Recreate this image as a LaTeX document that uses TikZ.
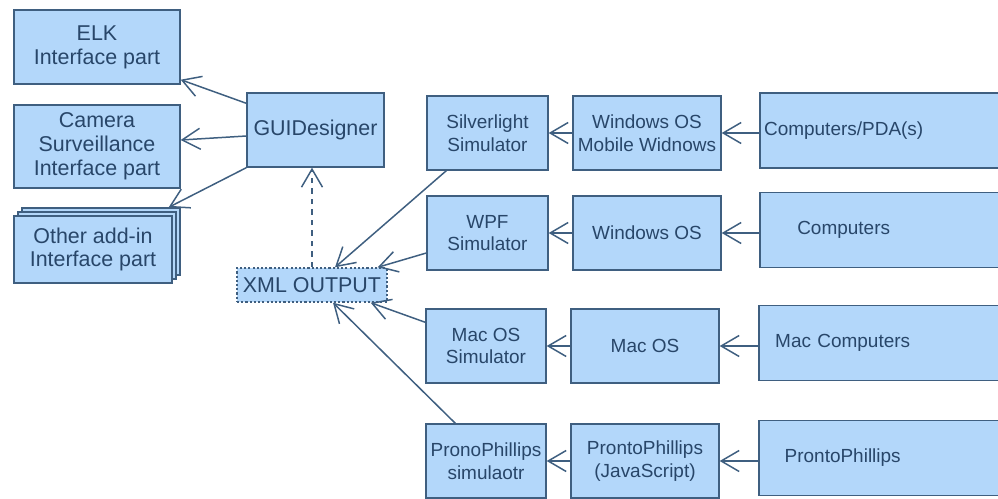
\documentclass[tikz,border=0pt]{standalone}
\usepackage{fontspec}
\setmainfont{Liberation Sans}
\usetikzlibrary{arrows.meta}
\usetikzlibrary{shadows}
\definecolor{boxfill}{RGB}{179,215,250}
\definecolor{boxline}{RGB}{63,95,128}
\definecolor{boxtext}{RGB}{40,70,105}
\newcommand{\farlabel}[1]{\makebox[3.32cm]{#1}}

\begin{document}
\begin{tikzpicture}[x=0.02cm,y=-0.02cm,
	box/.style={draw=boxline, fill=boxfill, text=boxtext, line width=0.8pt, inner sep=0pt, align=center},
	lbox/.style={box, font=\fontsize{12.2}{13.6}\selectfont},
	rbox/.style={box, font=\fontsize{10.8}{12.9}\selectfont, minimum height=1.48cm},
	farbox/.style={rbox, draw=none, anchor=west, minimum width=5.4cm, text width=5.4cm, align=left},
	arr/.style={draw=boxline, line width=0.85pt, -{Straight Barb[length=0.36cm,width=0.42cm]}}]
	\useasboundingbox (0,0) rectangle (998,498);
	\clip (0,0) rectangle (998,498);
	\node[lbox, minimum width=3.32cm, minimum height=1.48cm] (elk) at (97,47) {ELK\\Interface part};
	\node[lbox, minimum width=3.32cm, minimum height=1.66cm] (cam) at (97,146.5) {Camera\\Surveillance\\Interface part};
	\node[lbox, minimum width=3.16cm, minimum height=1.34cm,
		copy shadow={shadow xshift=0.16cm, shadow yshift=0.16cm},
		copy shadow={shadow xshift=0.08cm, shadow yshift=0.08cm}] (other) at (93,249.5) {Other add-in\\Interface part};
	\node[lbox, minimum width=2.74cm, minimum height=1.48cm] (gui) at (315.5,130) {GUIDesigner};
	\node[lbox, minimum width=3cm, minimum height=0.68cm, dash pattern=on 1.2pt off 1.2pt] (xml) at (312,285) {XML OUTPUT};

	\node[rbox, minimum width=2.42cm] (silver) at (487.5,133) {Silverlight\\Simulator};
	\node[rbox, minimum width=2.96cm] (winmob) at (647,133) {Windows OS\\Mobile Widnows};
	\node[farbox] (cpda) at (760,130.5) {\farlabel{Computers/PDA(s)}};
	\node[rbox, minimum width=2.42cm] (wpf) at (487.5,233) {WPF\\Simulator};
	\node[rbox, minimum width=2.96cm] (win) at (647,233) {Windows OS};
	\node[farbox] (comp) at (760,230) {\farlabel{Computers}};
	\node[rbox, minimum width=2.4cm] (macsim) at (486,346) {Mac OS\\Simulator};
	\node[rbox, minimum width=2.96cm] (mac) at (645,346) {Mac OS};
	\node[farbox] (maccomp) at (759,343) {\farlabel{Mac Computers}};
	\node[rbox, minimum width=2.4cm] (prsim) at (486,461) {PronoPhillips\\simulaotr};
	\node[rbox, minimum width=2.96cm] (prjs) at (645,461) {ProntoPhillips\\(JavaScript)};
	\node[farbox] (pr) at (759,458) {\farlabel{ProntoPhillips}};
	\foreach \n in {cpda, comp, maccomp, pr}
		\draw[boxline, line width=0.8pt] (\n.north east) -- (\n.north west) -- (\n.south west) -- (\n.south east);

	\draw[arr] ([yshift=-0.22cm]gui.north west) -- ([yshift=0.1cm]elk.south east);
	\draw[arr] ([yshift=-0.12cm]gui.west) -- ([yshift=0.13cm]cam.east);
	\draw[arr] (gui.south west) -- ([shift={(-0.08cm,0.16cm)}]other.north east);
	\draw[arr, dashed] (xml.north) -- (xml.north |- gui.south);
	\draw[arr] ([xshift=0.4cm]silver.south west) -- ([xshift=0.46cm]xml.north);
	\draw[arr] ([yshift=-0.4cm]wpf.west) -- ([xshift=-0.2cm]xml.north east);
	\draw[arr] ([yshift=-0.28cm]macsim.north west) -- ([xshift=-0.34cm]xml.south east);
	\draw[arr] ([xshift=0.6cm]prsim.north west) -- ([xshift=0.42cm]xml.south);
	\foreach \a/\b in {cpda/winmob, winmob/silver, comp/win, win/wpf, maccomp/mac, mac/macsim, pr/prjs, prjs/prsim}
		\draw[arr] (\a.west |- \b.east) -- (\b.east);
\end{tikzpicture}
\end{document}
